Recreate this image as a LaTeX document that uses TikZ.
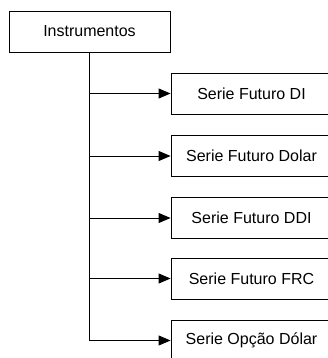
\documentclass[tikz,border=0pt]{standalone}
\usepackage{fontspec}
\setmainfont{Liberation Sans}
\usetikzlibrary{arrows.meta}
\begin{document}
\begin{tikzpicture}[x=1pt,y=-1pt,
  box/.style={draw=black, line width=0.9pt, minimum width=161pt, minimum height=41pt,
    inner sep=0pt, font=\fontsize{16}{18}\selectfont},
  branch/.style={draw=black, line width=1pt, -{Triangle[length=12pt,width=10pt]}}]
  \useasboundingbox (0,0) rectangle (328,358);
  \node[box] (inst) at (89.5,31.5) {Instrumentos};
  \begin{scope}[every node/.append style={minimum width=163pt}]
    \node[box] (b1) at (251.5,93.5) {Serie Futuro DI};
    \node[box] (b2) at (251.5,156) {Serie Futuro Dolar};
    \node[box] (b3) at (251.5,218) {Serie Futuro DDI};
    \node[box] (b4) at (251.5,278.5) {Serie Futuro FRC};
    \node[box] (b5) at (251.5,340.5) {Serie Opção Dólar};
  \end{scope}
  % heavier top of the trunk
  \draw[line width=1.8pt] (inst.south) -- (inst.south |- b1.west);
  \foreach \b in {b1,b2,b3,b4,b5}
    \draw[branch] (inst.south) |- (\b.west);
\end{tikzpicture}
\end{document}
